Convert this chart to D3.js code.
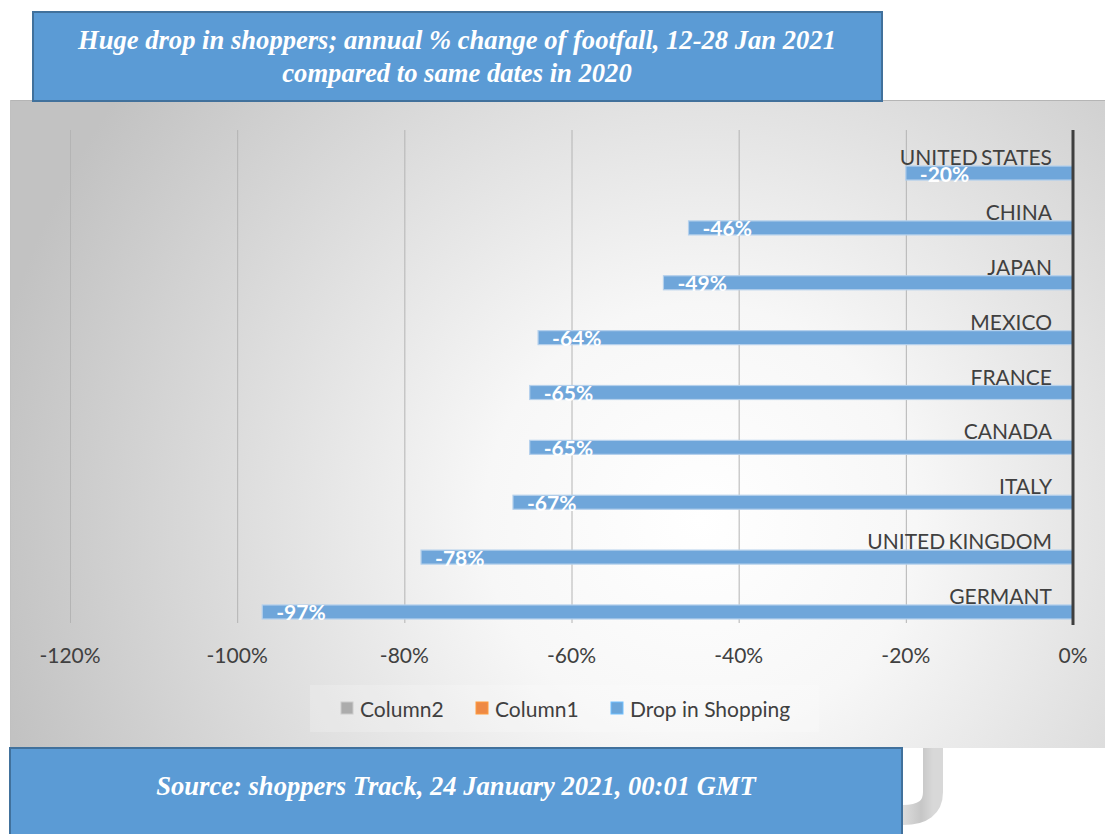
<!DOCTYPE html>
<html>
<head>
<meta charset="utf-8">
<script src="https://cdn.jsdelivr.net/npm/d3@7"></script>
<style>
  body { margin: 0; background: #fff; }
  svg { display: block; }
</style>
</head>
<body>
<div id="graf"></div>
<script>
// data
let categories = ["UNITED STATES", "CHINA", "JAPAN", "MEXICO", "FRANCE", "CANADA", "ITALY", "UNITED KINGDOM", "GERMANT"];
let values = [-0.20, -0.46, -0.49, -0.64, -0.65, -0.65, -0.67, -0.78, -0.97];
let ticks = [-1.2, -1.0, -0.8, -0.6, -0.4, -0.2, 0];
let legendNames = ["Column2", "Column1", "Drop in Shopping"];
let legendColors = ["#a5a5a5", "#ed7d31", "#5b9bd5"];
let titleLines = ["Huge drop in shoppers; annual % change of footfall, 12-28 Jan 2021", "compared to same dates in 2020"];
let sourceText = "Source: shoppers Track, 24 January 2021, 00:01 GMT";

let width = 1105, height = 834;
// plain hyphen for the minus sign, like the original
let pct = d3.formatLocale({decimal: ".", thousands: ",", grouping: [3], currency: ["", ""], minus: "-"}).format(".0%");

let svg = d3.select("#graf").append("svg")
    .attr("width", width)
    .attr("height", height);

const defs = svg.append("defs");
const bg = defs.append("radialGradient")
    .attr("id", "bg")
    .attr("gradientUnits", "userSpaceOnUse")
    .attr("cx", 700).attr("cy", 520).attr("r", 720);
bg.append("stop").attr("offset", 0).attr("stop-color", "#ffffff");
bg.append("stop").attr("offset", 0.3).attr("stop-color", "#f7f7f7");
bg.append("stop").attr("offset", 1).attr("stop-color", "#c2c2c2");

const curl = defs.append("linearGradient").attr("id", "curl").attr("x1", 0).attr("x2", 1);
curl.append("stop").attr("offset", 0).attr("stop-color", "#dcdcdc");
curl.append("stop").attr("offset", 0.6).attr("stop-color", "#c6c6c6");
curl.append("stop").attr("offset", 1).attr("stop-color", "#d8d8d8");

// chart panel
svg.append("rect")
    .attr("x", 10).attr("y", 100)
    .attr("width", width - 10).attr("height", 648)
    .attr("fill", "url(#bg)");
svg.append("line")
    .attr("x1", 10).attr("x2", width).attr("y1", 100.5).attr("y2", 100.5)
    .attr("stroke", "#b5b5b5");
svg.append("line")
    .attr("x1", 10.5).attr("x2", 10.5).attr("y1", 100).attr("y2", 748)
    .attr("stroke", "#c0c0c0");

const x = d3.scaleLinear().domain([-1.2, 0]).range([70, 1073]);
const y = d3.scaleBand().domain(categories).range([145.6, 639.4]);
const barH = 14;

const g = svg.append("g");

// gridlines
g.append("g")
    .selectAll("line")
    .data(ticks.filter(t => t < 0))
    .join("line")
    .attr("x1", d => x(d) + 0.5).attr("x2", d => x(d) + 0.5)
    .attr("y1", 130).attr("y2", 623)
    .attr("stroke", "#b4b4b4")
    .attr("stroke-width", 1);

// bars
g.append("g")
    .selectAll("rect")
    .data(values)
    .join("rect")
    .attr("x", d => x(d))
    .attr("y", (d, i) => y(categories[i]) + y.bandwidth() / 2 - barH / 2)
    .attr("width", d => x(0) - x(d))
    .attr("height", barH)
    .attr("fill", "#6fa6da")
    .attr("stroke", "#b4d0ec")
    .attr("stroke-width", 1.2);

// zero axis
g.append("line")
    .attr("x1", x(0)).attr("x2", x(0))
    .attr("y1", 130).attr("y2", 625)
    .attr("stroke", "#3f3f3f")
    .attr("stroke-width", 3);

// category labels
g.append("g")
    .selectAll("text")
    .data(categories)
    .join("text")
    .attr("x", x(0) - 21)
    .attr("y", d => y(d) + y.bandwidth() / 2 - 8)
    .attr("text-anchor", "end")
    .attr("fill", "#404040")
    .style("font", "21px Lato")
    .style("word-spacing", "-2px")
    .text(d => d);

// value labels
g.append("g")
    .selectAll("text")
    .data(values)
    .join("text")
    .attr("x", d => x(d) + 14)
    .attr("y", (d, i) => y(categories[i]) + y.bandwidth() / 2 + 8.5)
    .attr("fill", "#ffffff")
    .style("font", "bold 21px Lato")
    .text(d => pct(d));

// x tick labels
g.append("g")
    .selectAll("text")
    .data(ticks)
    .join("text")
    .attr("x", d => x(d))
    .attr("y", 663)
    .attr("text-anchor", "middle")
    .attr("fill", "#404040")
    .style("font", "21px Lato")
    .text(d => pct(d));

// legend
const leg = svg.append("g");
leg.append("rect")
    .attr("x", 310).attr("y", 685).attr("width", 509).attr("height", 47)
    .attr("fill", "#ffffff").attr("fill-opacity", 0.2);
const legX = [341, 476, 611];
const item = leg.selectAll("g")
    .data(legendNames)
    .join("g")
    .attr("transform", (d, i) => `translate(${legX[i]},702)`);
item.append("rect")
    .attr("width", 12).attr("height", 12)
    .attr("fill", (d, i) => legendColors[i])
    .attr("fill-opacity", 0.9)
    .attr("stroke", (d, i) => d3.color(legendColors[i]).brighter(0.6))
    .attr("stroke-width", 1);
item.append("text")
    .attr("x", 19).attr("y", 14.5)
    .attr("fill", "#404040")
    .style("font", "21px Lato")
    .text(d => d);

// title box
svg.append("rect")
    .attr("x", 33).attr("y", 12)
    .attr("width", 849).attr("height", 89)
    .attr("fill", "#5b9bd5")
    .attr("stroke", "#41719c")
    .attr("stroke-width", 2);
svg.append("g")
    .selectAll("text")
    .data(titleLines)
    .join("text")
    .attr("x", 457)
    .attr("y", (d, i) => 49 + i * 33)
    .attr("text-anchor", "middle")
    .attr("fill", "#ffffff")
    .style("font", "italic bold 26.6px 'Liberation Serif'")
    .text(d => d);

// paper curl behind the source box
svg.append("path")
    .attr("d", "M933,748 L933,792 Q933,815 903,815")
    .attr("fill", "none")
    .attr("stroke", "url(#curl)")
    .attr("stroke-width", 20);

// source box
svg.append("rect")
    .attr("x", 10).attr("y", 748)
    .attr("width", 892).attr("height", 100)
    .attr("fill", "#5b9bd5")
    .attr("stroke", "#41719c")
    .attr("stroke-width", 2);
svg.append("text")
    .attr("x", 456).attr("y", 795)
    .attr("text-anchor", "middle")
    .attr("fill", "#ffffff")
    .style("font", "italic bold 26.6px 'Liberation Serif'")
    .text(sourceText);
</script>
</body>
</html>
